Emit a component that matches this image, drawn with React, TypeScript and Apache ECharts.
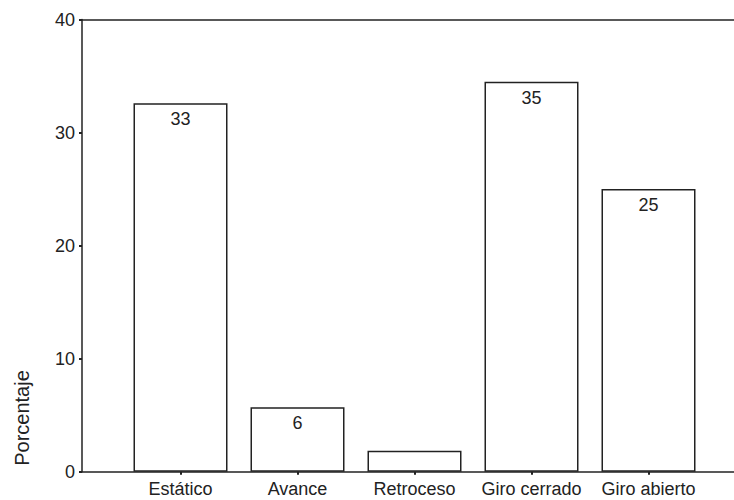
import React, { useEffect, useRef } from "react";
import * as echarts from "echarts";

const categories = ["Estático", "Avance", "Retroceso", "Giro cerrado", "Giro abierto"];
const values = [32.6, 5.7, 1.85, 34.5, 25.0];
const valueLabels = ["33", "6", "", "35", "25"];
const yTicks = [0, 10, 20, 30, 40];
const yAxisName = "Porcentaje";

const FONT = "'Liberation Sans', Arial, sans-serif";
const INK = "#222";

export default function App() {
  const ref = useRef<HTMLDivElement>(null);
  useEffect(() => {
    if (!ref.current) return;
    const chart = echarts.init(ref.current, null, { renderer: "svg" });
    chart.setOption({
      animation: false,
      backgroundColor: "#fff",
      grid: [
        { left: 122, right: 27, top: 19.5, bottom: 28.3, containLabel: false, outerBoundsMode: "none" },
        { left: 82, right: -10, top: 19.5, bottom: 28.3, containLabel: false, outerBoundsMode: "none" },
      ],
      graphic: [
        {
          type: "text",
          x: 22,
          y: 418,
          rotation: Math.PI / 2,
          style: {
            text: yAxisName,
            fill: INK,
            font: `20px ${FONT}`,
            textAlign: "center",
            textVerticalAlign: "middle",
          },
        },
      ],
      xAxis: [
        {
          type: "category",
          gridIndex: 0,
          data: categories,
          axisLine: { show: false },
          axisTick: { show: true, alignWithLabel: true, length: 3, lineStyle: { color: INK, width: 2 } },
          axisLabel: { color: INK, fontFamily: FONT, fontSize: 18, margin: 8, interval: 0 },
        },
        {
          type: "value",
          gridIndex: 1,
          position: "bottom",
          min: 0,
          max: 1,
          axisLine: { show: true, lineStyle: { color: INK, width: 1.5 } },
          axisTick: { show: false },
          axisLabel: { show: false },
          splitLine: { show: false },
        },
        {
          type: "value",
          gridIndex: 1,
          position: "top",
          min: 0,
          max: 1,
          axisLine: { show: true, lineStyle: { color: INK, width: 1.5 } },
          axisTick: { show: false },
          axisLabel: { show: false },
          splitLine: { show: false },
        },
      ],
      yAxis: [
        {
          type: "value",
          gridIndex: 0,
          min: yTicks[0],
          max: yTicks[yTicks.length - 1],
          interval: 10,
          offset: 40,
          axisLine: { show: true, lineStyle: { color: INK, width: 1.5 } },
          axisTick: { show: true, length: 3, lineStyle: { color: INK, width: 2 } },
          axisLabel: { color: INK, fontFamily: FONT, fontSize: 18, margin: 7 },
          splitLine: { show: false },
        },
        {
          type: "value",
          gridIndex: 1,
          show: false,
          min: 0,
          max: 1,
        },
      ],
      series: [
        {
          type: "bar",
          xAxisIndex: 0,
          yAxisIndex: 0,
          barWidth: 94,
          data: values.map((v, i) => ({
            value: v,
            label: { show: valueLabels[i] !== "", formatter: valueLabels[i] || "" },
          })),
          itemStyle: { color: "#fff", borderColor: INK, borderWidth: 1.5 },
          label: {
            position: "insideTop",
            distance: 7,
            color: INK,
            fontFamily: FONT,
            fontSize: 18,
          },
        },
      ],
    });
    return () => chart.dispose();
  }, []);
  return <div ref={ref} style={{ width: 734, height: 500, position: "absolute", left: 0, top: 0 }} />;
}
